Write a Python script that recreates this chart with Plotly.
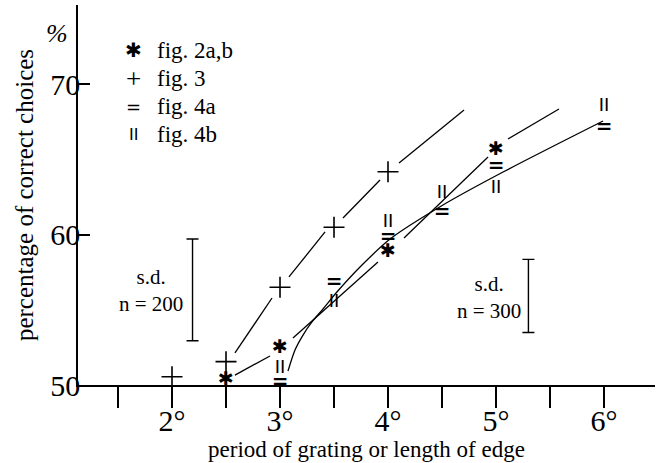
import plotly.graph_objects as go

# ---- data ----
fig2_x = [2.5, 3, 4, 5]
fig2_y = [50.33, 52.47, 58.8, 65.57]
fig3_x = [2, 2.5, 3, 3.5, 4]
fig3_y = [50.55, 51.55, 56.5, 60.48, 64.17]
fig4a_x = [3, 3.5, 4, 4.5, 5, 6]
fig4a_y = [50.15, 56.78, 59.8, 61.43, 64.46, 67.06]
fig4b_x = [3, 3.5, 4, 4.5, 5, 6]
fig4b_y = [51.1, 55.5, 60.8, 62.76, 63.07, 68.49]

# hand-drawn fitted curves (segments separated by None)
curve2_x = [2.583, 2.907, None, 3.120, 3.907, None, 4.148, 4.926, None, 5.111, 5.583]
curve2_y = [50.66, 51.93, None, 53.12, 58.17, None, 59.77, 65.15, None, 66.35, 68.34]
curve3_x = [2.583, 2.926, None, 3.083, 3.417, None, 3.583, 3.926, None, 4.102, 4.704]
curve3_y = [52.13, 55.78, None, 57.18, 60.17, None, 61.10, 63.62, None, 64.75, 68.27]
curve4_x = [3.074, 3.139, 3.213, 3.296, 3.398, 3.519, 3.759, 4.019, 4.509, 5.065, 5.991]
curve4_y = [50.93, 52.33, 53.32, 54.19, 55.05, 56.11, 57.97, 59.70, 61.96, 64.15, 67.54]

# standard deviation bars
sd_x = [2.19, 5.30]
sd_lo = [52.94, 53.49]
sd_hi = [59.70, 58.35]
sd_labels = ["s.d.<br>n = 200", "s.d.<br>n = 300"]

x_tickvals = [1.5, 2, 2.5, 3, 3.5, 4, 4.5, 5, 5.5, 6]
x_ticktext = ["", "2°", "", "3°", "", "4°", "", "5°", "", "6°"]
y_tickvals = [50, 60, 70]
y_ticktext = ["50", "60", "70"]

legend_glyphs = ["✱", "+", "=", "II"]
legend_labels = ["fig. 2a,b", "fig. 3", "fig. 4a", "fig. 4b"]

SERIF = "Liberation Serif, Times New Roman, serif"
SANS = "DejaVu Sans, sans-serif"
LSANS = "Liberation Sans, Arial, sans-serif"

fig = go.Figure()

line_style = dict(color="black", width=1.3)
fig.add_trace(go.Scatter(x=curve3_x, y=curve3_y, mode="lines", line=line_style, connectgaps=False))
fig.add_trace(go.Scatter(x=curve2_x, y=curve2_y, mode="lines", line=line_style, connectgaps=False))
fig.add_trace(go.Scatter(x=curve4_x, y=curve4_y, mode="lines",
                         line=dict(color="black", width=1.3, shape="spline", smoothing=0.8)))

# s.d. bars
sd_mid = [(a + b) / 2 for a, b in zip(sd_lo, sd_hi)]
sd_half = [(b - a) / 2 for a, b in zip(sd_lo, sd_hi)]
fig.add_trace(go.Scatter(
    x=sd_x, y=sd_mid, mode="markers", marker=dict(size=1, color="rgba(0,0,0,0)"),
    error_y=dict(type="data", array=sd_half, symmetric=True, color="black", thickness=1.4, width=6),
))

# markers as glyphs
fig.add_trace(go.Scatter(x=fig3_x, y=fig3_y, mode="markers",
                         marker=dict(symbol="cross-thin-open", size=15, color="black",
                                     line=dict(color="black", width=1.6))))
fig.add_trace(go.Scatter(x=fig2_x, y=fig2_y, mode="text", text=["✱"] * len(fig2_x),
                         textposition="middle center", textfont=dict(family=SANS, size=19, color="black")))
fig.add_trace(go.Scatter(x=fig4a_x, y=fig4a_y, mode="text", text=["="] * len(fig4a_x),
                         textposition="middle center",
                         textfont=dict(family=SANS, size=20, color="black", weight="bold")))
fig.add_trace(go.Scatter(x=fig4b_x, y=fig4b_y, mode="text", text=["II"] * len(fig4b_x),
                         textposition="middle center",
                         textfont=dict(family=LSANS, size=19, color="black")))

W, H = 659, 463
ML, MR, MT, MB = 78, 4, 5, 78
pw, ph = W - ML - MR, H - MT - MB


def px_x(v):
    return (v - ML) / pw


def px_y(v):
    return 1 - (v - MT) / ph


annotations = []
legend_rows = [50, 79, 107, 134]
glyph_sizes = [20, 27, 18, 17]
glyph_fonts = [SANS, SERIF, SANS, LSANS]
for i, (g, lab) in enumerate(zip(legend_glyphs, legend_labels)):
    annotations.append(dict(x=px_x(133), y=px_y(legend_rows[i]), xref="paper", yref="paper", text=g,
                            showarrow=False, xanchor="center", yanchor="middle",
                            font=dict(family=glyph_fonts[i], size=glyph_sizes[i], color="black")))
    annotations.append(dict(x=px_x(155), y=px_y(legend_rows[i]), xref="paper", yref="paper", text=lab,
                            showarrow=False, xanchor="left", yanchor="middle",
                            font=dict(family=SERIF, size=23, color="black")))

annotations.append(dict(x=px_x(57), y=px_y(33), xref="paper", yref="paper", text="<i>%</i>",
                        showarrow=False, xanchor="center", yanchor="middle",
                        font=dict(family=SERIF, size=26, color="black")))
for lab, xr, yc in zip(sd_labels, [2.12, 5.247], [56.31, 55.81]):
    annotations.append(dict(x=xr, y=yc, xref="x", yref="y", text=lab, showarrow=False, xanchor="right",
                            yanchor="middle", align="center", font=dict(family=SERIF, size=21, color="black")))

fig.update_layout(
    width=W, height=H, margin=dict(l=ML, r=MR, t=MT, b=MB, autoexpand=False),
    paper_bgcolor="white", plot_bgcolor="white", showlegend=False,
    annotations=annotations,
    xaxis=dict(range=[1.1296, 6.472], tickvals=x_tickvals, ticktext=x_ticktext, ticks="outside",
               ticklen=21, tickwidth=1.5, tickcolor="black", showline=True, linecolor="black", linewidth=1.5,
               showgrid=False, zeroline=False, automargin=False, ticklabelstandoff=-13,
               tickfont=dict(family=SERIF, size=30, color="black"),
               title=dict(text="period of grating or length of edge",
                          font=dict(family=SERIF, size=23, color="black"), standoff=0)),
    yaxis=dict(range=[50, 75.25], tickvals=y_tickvals, ticktext=y_ticktext, ticks="inside",
               ticklen=12, tickwidth=1.5, tickcolor="black", showline=True, linecolor="black", linewidth=1.5,
               showgrid=False, zeroline=False, automargin=False, ticklabelstandoff=-10,
               tickfont=dict(family=SERIF, size=30, color="black"),
               title=dict(text="percentage of correct choices",
                          font=dict(family=SERIF, size=25, color="black"), standoff=10)),
)

fig.write_html("out.html")
